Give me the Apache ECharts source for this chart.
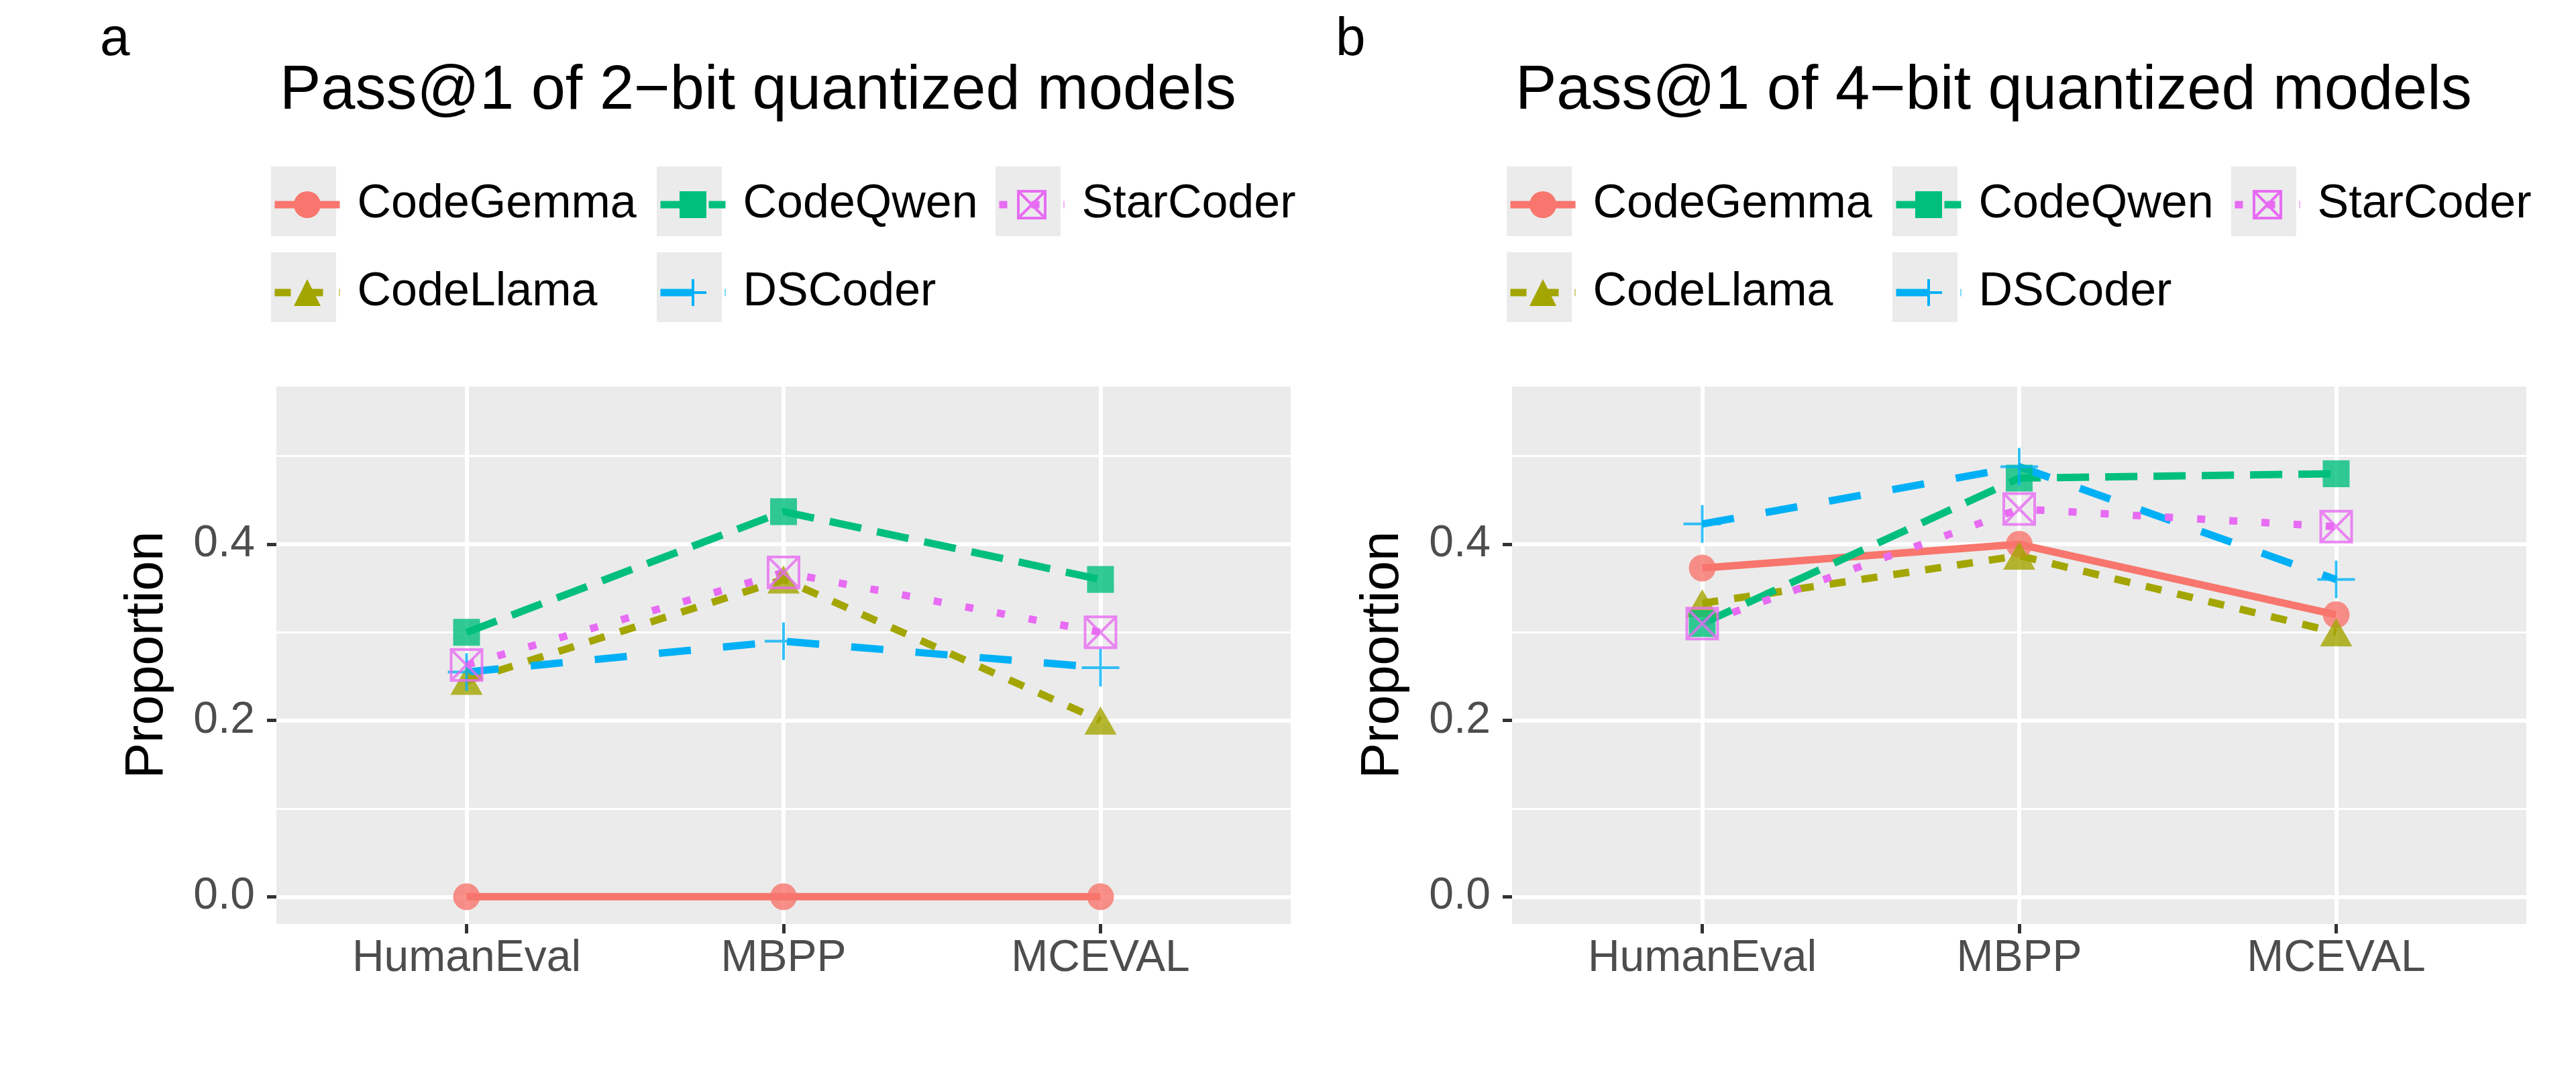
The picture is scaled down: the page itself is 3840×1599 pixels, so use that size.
<!DOCTYPE html>
<html>
<head>
<meta charset="utf-8">
<title>Pass@1 of quantized models</title>
<script src="https://cdn.jsdelivr.net/npm/echarts@6/dist/echarts.min.js"></script>
<style>
  html, body { margin: 0; padding: 0; background: #ffffff; }
  #chart { width: 3840px; height: 1599px; }
</style>
</head>
<body>
<div id="chart"></div>
<script>
// benchmarks on the x axis, models in legend order
var categories = ['HumanEval', 'MBPP', 'MCEVAL'];
var models = ['CodeGemma', 'CodeLlama', 'CodeQwen', 'DSCoder', 'StarCoder'];

// panel a: 2-bit quantized, pass@1 proportion
var gemma2 = [0.0, 0.0, 0.0];
var llama2 = [0.245, 0.36, 0.20];
var qwen2 = [0.30, 0.437, 0.36];
var ds2 = [0.255, 0.29, 0.26];
var star2 = [0.263, 0.368, 0.30];

// panel b: 4-bit quantized
var gemma4 = [0.373, 0.40, 0.32];
var llama4 = [0.333, 0.387, 0.30];
var qwen4 = [0.31, 0.475, 0.48];
var ds4 = [0.423, 0.488, 0.36];
var star4 = [0.31, 0.44, 0.42];

var yTicks = [0, 0.2, 0.4];
var yMinorTicks = [0.1, 0.3, 0.5];
var panelTags = ['a', 'b'];
var panelTitles = ['Pass@1 of 2\u2212bit quantized models', 'Pass@1 of 4\u2212bit quantized models'];

var FONT = '"Liberation Sans", Arial, Helvetica, sans-serif';
var colors = ['#F8766D', '#A3A500', '#00BF7D', '#00B0F6', '#E76BF3'];
var LW = 11;
// ggplot linetypes solid, 22, 42, 44, 13 scaled by line width
var dashes = ['solid', [24, 24], [48, 24], [48, 48], [12, 36]];
var symbols = ['circle', 'triangle', 'rect', 'path://M5,0L5,10M0,5L10,5', 'path://M0,0L10,0L10,10L0,10ZM0,0L10,10M10,0L0,10'];
var symSizes = [40, [48, 42], 40, 56, 46];
var hollow = [false, false, false, true, true];

var panels = [[gemma2, llama2, qwen2, ds2, star2], [gemma4, llama4, qwen4, ds4, star4]];
var panelDx = [0, 1842];

// legend columns (ggplot fills by column)
var legendCols = [[0, 1], [2, 3], [4]];
var legendColX = [404, 979, 1484];
var keyRowY = [248, 376];

function markerStyle(i) {
  if (hollow[i]) return { color: 'transparent', borderColor: colors[i], borderWidth: 4 };
  return { color: colors[i], borderWidth: 0 };
}

var grids = [], xAxes = [], yAxes = [], series = [], legends = [], graphics = [];

panels.forEach(function (vals, p) {
  var dx = panelDx[p];
  grids.push({
    left: 412 + dx, top: 576, width: 1512, height: 801,
    show: true, backgroundColor: '#EBEBEB', borderWidth: 0
  });

  xAxes.push({
    type: 'value', gridIndex: p, min: -0.6, max: 2.6, position: 'bottom',
    axisLine: { show: false, onZero: false },
    axisTick: { show: true, customValues: [0, 1, 2], length: 14, lineStyle: { color: '#333333', width: 5 } },
    axisLabel: {
      customValues: [0, 1, 2],
      formatter: function (v) { return categories[Math.round(v)]; },
      fontSize: 66, fontFamily: FONT, color: '#4D4D4D', margin: 19
    },
    splitLine: { show: true, lineStyle: { color: '#FFFFFF', width: 6 } }
  });

  // main axis with labels
  yAxes.push({
    type: 'value', gridIndex: p, min: -0.031, max: 0.579, position: 'left',
    axisLine: { show: false, onZero: false },
    axisTick: { show: true, customValues: yTicks, length: 14, lineStyle: { color: '#333333', width: 5 } },
    axisLabel: {
      customValues: yTicks,
      formatter: function (v) { return v.toFixed(1); },
      fontSize: 66, fontFamily: FONT, color: '#4D4D4D', margin: 32
    },
    splitLine: { show: true, lineStyle: { color: '#FFFFFF', width: 6 } }
  });
  // minor grid lines only
  yAxes.push({
    type: 'value', gridIndex: p, min: -0.031, max: 0.579, position: 'left',
    axisLine: { show: false, onZero: false },
    axisTick: { show: false, customValues: yMinorTicks },
    axisLabel: { show: false },
    splitLine: { show: true, lineStyle: { color: '#FFFFFF', width: 3 } }
  });

  vals.forEach(function (arr, i) {
    var pts = arr.map(function (v, k) { return [k, v]; });
    series.push({
      type: 'line', name: models[i], xAxisIndex: p, yAxisIndex: 2 * p,
      data: pts, symbol: symbols[i], symbolSize: symSizes[i], showSymbol: false,
      lineStyle: { color: colors[i], width: LW, type: dashes[i], cap: 'butt' },
      itemStyle: { color: colors[i] },
      silent: true, z: 2
    });
    series.push({
      type: 'scatter', name: models[i], xAxisIndex: p, yAxisIndex: 2 * p,
      data: pts, symbol: symbols[i], symbolSize: symSizes[i],
      itemStyle: markerStyle(i),
      silent: true, z: 3
    });
  });

  // legend keys: grey boxes + one vertical legend per column
  legendCols.forEach(function (items, c) {
    items.forEach(function (i, r) {
      graphics.push({
        type: 'rect', z: 1,
        shape: { x: legendColX[c] + dx, y: keyRowY[r], width: 97, height: 104 },
        style: { fill: '#EBEBEB' }
      });
    });
    legends.push({
      orient: 'vertical', left: legendColX[c] + dx, top: 270,
      padding: 0, itemWidth: 97, itemHeight: 50, itemGap: 61,
      selectedMode: false, z: 5,
      textStyle: { fontSize: 70, fontFamily: FONT, color: '#000000', lineHeight: 50, padding: [0, 0, 0, 21] },
      lineStyle: { width: LW },
      data: items.map(function (i) {
        return { name: models[i], itemStyle: markerStyle(i) };
      })
    });
  });

  graphics.push({
    type: 'text', x: 149 + dx, y: 60,
    style: { text: panelTags[p], font: '80px ' + FONT, fill: '#000000', align: 'left', verticalAlign: 'middle' }
  });
  graphics.push({
    type: 'text', x: 417 + dx, y: 137,
    style: { text: panelTitles[p], font: '92px ' + FONT, fill: '#000000', align: 'left', verticalAlign: 'middle' }
  });
  graphics.push({
    type: 'text', x: 220 + dx, y: 976, rotation: Math.PI / 2,
    style: { text: 'Proportion', font: '80px ' + FONT, fill: '#000000', align: 'center', verticalAlign: 'middle' }
  });
});

var chart = echarts.init(document.getElementById('chart'));
chart.setOption({
  backgroundColor: '#ffffff',
  animation: false,
  grid: grids,
  xAxis: xAxes,
  yAxis: yAxes,
  legend: legends,
  graphic: { elements: graphics },
  series: series
});
</script>
</body>
</html>
